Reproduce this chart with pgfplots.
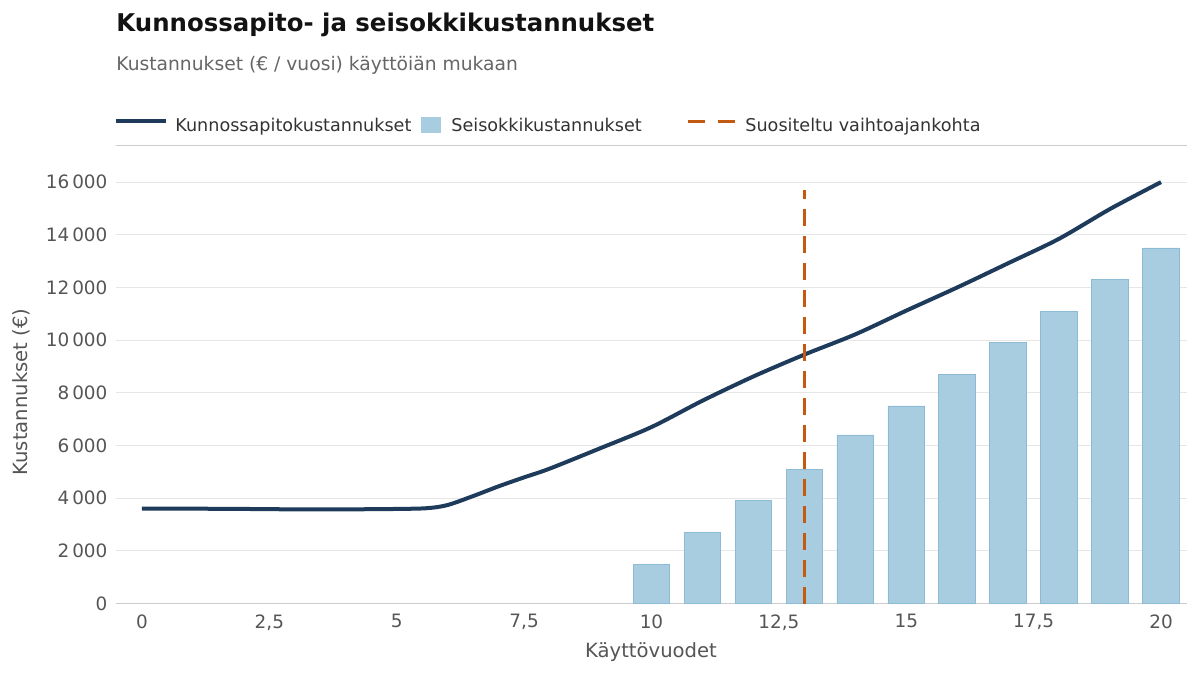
\documentclass[border=0pt]{standalone}
\usepackage{pgfplots}
\pgfplotsset{compat=1.18}
\usepackage{fontspec}
\setmainfont{DejaVu Sans}
\definecolor{navy}{HTML}{1F3B5C}
\definecolor{barfill}{HTML}{A8CCE0}
\definecolor{baredge}{HTML}{8DBBD5}
\definecolor{orng}{HTML}{C45A11}
\definecolor{gridc}{HTML}{E6E6E6}
\definecolor{axc}{HTML}{CCCCCC}
\definecolor{tickc}{HTML}{555555}
\definecolor{legc}{HTML}{333333}
\definecolor{subc}{HTML}{666666}
\begin{document}
\begin{tikzpicture}
\useasboundingbox (0,0) rectangle (600pt,-337.5pt);
\begin{axis}[
  at={(58.25pt,-301.75pt)}, anchor=south west,
  scale only axis, width=535pt, height=218.6pt,
  xmin=-0.5, xmax=20.5, ymin=0, ymax=16600,
  enlargelimits=false,
  axis x line=bottom, axis y line=left,
  axis line style={-},
  x axis line style={draw=axc, line width=0.6pt},
  y axis line style={draw=none},
  major tick length=0pt,
  xtick={0,2.5,5,7.5,10,12.5,15,17.5,20},
  ytick={0,2000,4000,6000,8000,10000,12000,14000,16000},
  ymajorgrids, grid style={draw=gridc, line width=0.6pt},
  /pgf/number format/assume math mode=true,
  /pgf/number format/use comma,
  /pgf/number format/1000 sep={\,},
  scaled y ticks=false,
  tick label style={font=\fontsize{9.2pt}{11pt}\selectfont, text=tickc},
  xticklabel style={yshift=-2pt},
  yticklabel style={xshift=-1pt},
]
\addplot[ybar, bar width=0.72, fill=barfill, draw=baredge, line width=0.4pt]
  coordinates {(10,1500) (11,2700) (12,3900) (13,5100) (14,6400) (15,7500)
               (16,8700) (17,9900) (18,11100) (19,12300) (20,13500)};
\addplot[navy, line width=2pt, smooth, tension=0.5]
  coordinates {(0,3600) (1,3600) (2,3590) (3,3575) (4,3575) (5,3590) (5.6,3620)
               (6,3740) (6.5,4080) (7,4450) (7.5,4790) (8,5120) (9,5900)
               (10,6700) (11,7700) (12,8620) (13,9450) (14,10220) (15,11120)
               (16,12000) (17,12920) (18,13850) (19,14980) (20,16000)};
\addplot[orng, line width=1.5pt, dash pattern=on 8.5pt off 5pt]
  coordinates {(13,0) (13,15700)};
\end{axis}
\begin{scope}[x=0.5pt,y=-0.5pt]
\node[anchor=base west, inner sep=0pt, font=\fontsize{12.2pt}{14pt}\selectfont\bfseries, text=black!93]
  at (116,31) {Kunnossapito- ja seisokkikustannukset};
\node[anchor=base west, inner sep=0pt, font=\fontsize{9.35pt}{11pt}\selectfont, text=subc]
  at (116,70) {Kustannukset (€ / vuosi) käyttöiän mukaan};
% legend
\draw[navy, line width=2pt] (116,121) -- (166,121);
\node[anchor=base west, inner sep=0pt, font=\fontsize{8.8pt}{10pt}\selectfont, text=legc]
  at (175,131) {Kunnossapitokustannukset};
\fill[barfill] (421,117) rectangle (441,133);
\node[anchor=base west, inner sep=0pt, font=\fontsize{8.8pt}{10pt}\selectfont, text=legc]
  at (451,131) {Seisokkikustannukset};
\draw[orng, line width=1.5pt] (688,121) -- (705,121) (718,121) -- (735,121);
\node[anchor=base west, inner sep=0pt, font=\fontsize{8.8pt}{10pt}\selectfont, text=legc]
  at (745,131) {Suositeltu vaihtoajankohta};
\draw[axc, line width=0.6pt] (116,145.5) -- (1187,145.5);
% axis labels
\node[rotate=90, inner sep=0pt, font=\fontsize{9.8pt}{11pt}\selectfont, text=tickc]
  at (21,392) {Kustannukset (€)};
\node[inner sep=0pt, font=\fontsize{9.8pt}{11pt}\selectfont, text=tickc]
  at (651,652) {Käyttövuodet};
\end{scope}
\end{tikzpicture}
\end{document}
